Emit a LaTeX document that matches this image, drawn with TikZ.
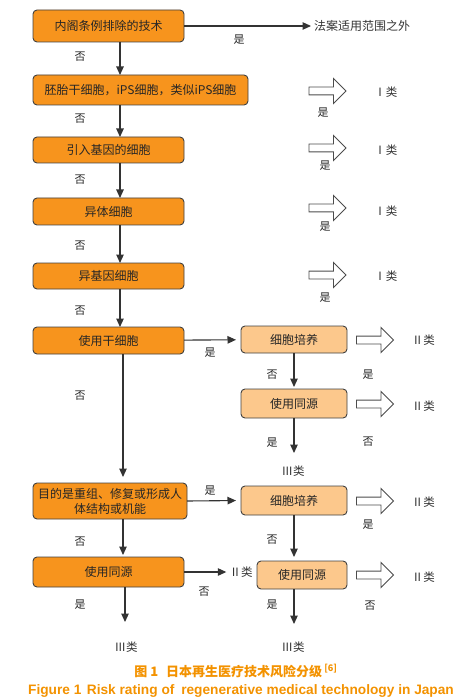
\documentclass[tikz,border=0pt]{standalone}
\usepackage{fontspec}
\newfontfamily\cjk{Noto Sans CJK SC}
\setsansfont{Liberation Sans}
\usepackage{tikz}
\usetikzlibrary{arrows.meta, shapes.arrows}

\definecolor{darkstep}{HTML}{F7941D}
\definecolor{lightstep}{HTML}{FCC88C}
\definecolor{captionorange}{HTML}{F39200}

\tikzset{%
darkbox/.style={draw=black!75, line width=0.9pt, rounded corners=4pt, fill=darkstep, text=black!85, font=\cjk\fontsize{12}{15}\selectfont, align=center, inner sep=0, outer sep=0},
lightbox/.style={darkbox, fill=lightstep},
flowline/.style={line width=1.1pt, black!80, -{Triangle[length=8.5pt, width=7.5pt]}},
hollowarrow/.style={single arrow, draw=black!70, line width=0.9pt, fill=white, minimum height=37pt, minimum width=24pt, inner sep=3.5pt, single arrow head extend=8.5pt, outer sep=0},
answer/.style={font=\cjk\fontsize{11}{13}\selectfont, text=black!85, inner sep=0},
classlabel/.style={font=\cjk\fontsize{11.5}{13}\selectfont, text=black!80, inner sep=1pt}%
}

\begin{document}
\begin{tikzpicture}[x=1pt, y=-1pt]

\useasboundingbox (0, 0) rectangle (470, 700) ;

% arguments: name, x, y, shift of label, class
\newcommand{\classarrow}[5]{%
\path (#2, #3) node [hollowarrow] (#1arrow) {} ;
\path (#1arrow.east) ++(#4) node [classlabel] (#1class) {#5} ;
}

% spines of the main column
\path (120, 0) node [shape=coordinate] (spineA) {} ;
\path (123, 0) node [shape=coordinate] (spineB) {} ;
\path (125, 0) node [shape=coordinate] (spineC) {} ;
\path (294, 0) node [shape=coordinate] (spineR) {} ;

% draw boxes

\node [darkbox, minimum width=151pt, minimum height=32pt] (b1) at (108.5, 26) {内阁条例排除的技术} ;
\node [darkbox, minimum width=215pt, minimum height=30pt] (b2) at (140.5, 90) {胚胎干细胞，iPS细胞，类似iPS细胞} ;
\node [darkbox, minimum width=151pt, minimum height=26pt] (b3) at (108.5, 150) {引入基因的细胞} ;
\node [darkbox, minimum width=151pt, minimum height=27pt] (b4) at (108.5, 211.5) {异体细胞} ;
\node [darkbox, minimum width=151pt, minimum height=26pt] (b5) at (108.5, 276) {异基因细胞} ;
\node [darkbox, minimum width=151pt, minimum height=27pt] (b6) at (108.5, 340.5) {使用干细胞} ;
\node [darkbox, minimum width=154pt, minimum height=36pt] (b7) at (110, 501) {目的是重组、修复或形成人\\体结构或机能} ;
\node [darkbox, minimum width=151pt, minimum height=30pt] (b8) at (108.5, 572) {使用同源} ;

\node [lightbox, minimum width=106pt, minimum height=27pt] (c1) at (294, 339.5) {细胞培养} ;
\node [lightbox, minimum width=106pt, minimum height=29pt] (s1) at (294, 403.5) {使用同源} ;
\node [lightbox, minimum width=106pt, minimum height=29pt] (c2) at (294, 500.5) {细胞培养} ;
\node [lightbox, minimum width=90pt, minimum height=28pt] (s2) at (302, 575) {使用同源} ;

% draw end labels

\node [classlabel, font=\cjk\fontsize{12}{14}\selectfont, anchor=west, inner sep=0] (outside) at (314, 26) {法案适用范围之外} ;
\node [classlabel] (r1) at (293, 471) {Ⅲ类} ;
\node [classlabel] (r2) at (126, 647) {Ⅲ类} ;
\node [classlabel] (r3) at (293, 647) {Ⅲ类} ;
\node [classlabel] (k8) at (241, 572) {Ⅱ类} ;
\path (125, 622) node [shape=coordinate] (e8) {} ;
\path (294, 453) node [shape=coordinate] (es1) {} ;
\path (294, 624) node [shape=coordinate] (es2) {} ;

% draw hollow arrows

\classarrow{b2}{325.5}{91}{40, 1}{Ⅰ类}
\classarrow{b3}{325.5}{148}{40, 2}{Ⅰ类}
\classarrow{b4}{325.5}{208}{40, 3}{Ⅰ类}
\classarrow{b5}{325.5}{275}{40, 1}{Ⅰ类}
\classarrow{c1}{373}{340}{30, 0}{Ⅱ类}
\classarrow{s1}{373}{404}{30, 2}{Ⅱ类}
\classarrow{c2}{373}{501}{30, 1}{Ⅱ类}
\classarrow{s2}{373}{575}{30, 2}{Ⅱ类}

% draw flow arrows

\draw [flowline, shorten >=3pt] (b1) -- (outside) ;
\draw [flowline] (b1.south -| spineA) -- (b2.north -| spineA) ;
\draw [flowline] (b2.south -| spineA) -- (b3.north -| spineA) ;
\draw [flowline] (b3.south -| spineA) -- (b4.north -| spineA) ;
\draw [flowline] (b4.south -| spineA) -- (b5.north -| spineA) ;
\draw [flowline] (b5.south -| spineA) -- (b6.north -| spineA) ;
\draw [flowline, shorten >=6pt] (b6.south -| spineB) -- (b7.north -| spineB) ;
\draw [flowline, shorten >=2pt] (b7.south -| spineB) -- (b8.north -| spineB) ;
\draw [flowline] (b8.south -| spineC) -- (e8) ;

\draw [flowline, shorten >=5pt] (b6) -- (c1) ;
\draw [flowline, shorten >=5pt] (b7.east) -- (c2.west) ;
\draw [flowline, shorten >=2pt] (b8) -- (k8) ;

\draw [flowline, shorten >=2pt] (c1.south -| spineR) -- (s1.north -| spineR) ;
\draw [flowline] (s1.south -| spineR) -- (es1) ;
\draw [flowline, shorten >=4pt] (c2.south -| spineR) -- (s2.north -| spineR) ;
\draw [flowline] (s2.south -| spineR) -- (es2) ;

% draw answers

\node [answer] (a1) at (239, 40) {是} ;
\node [answer] (a2) at (323, 113) {是} ;
\node [answer] (a3) at (325, 166) {是} ;
\node [answer] (a4) at (325, 227) {是} ;
\node [answer] (a5) at (325, 298) {是} ;
\node [answer] (n1) at (80, 57) {否} ;
\node [answer] (n2) at (80, 119) {否} ;
\node [answer] (n3) at (80, 180) {否} ;
\node [answer] (n4) at (80, 246) {否} ;
\node [answer] (n5) at (80, 311) {否} ;
\node [answer] (n6) at (80, 396) {否} ;
\node [answer] (a6) at (210, 353) {是} ;
\node [answer] (n7) at (272, 375) {否} ;
\node [answer] (a7) at (368, 375) {是} ;
\node [answer] (a8) at (272, 443) {是} ;
\node [answer] (n8) at (368, 442) {否} ;
\node [answer] (a9) at (210, 491) {是} ;
\node [answer] (n9) at (80, 542) {否} ;
\node [answer] (n10) at (272, 540) {否} ;
\node [answer] (a10) at (368, 525) {是} ;
\node [answer] (n11) at (204, 592) {否} ;
\node [answer] (a11) at (80, 605) {是} ;
\node [answer] (a12) at (272, 605) {是} ;
\node [answer] (n12) at (370, 606) {否} ;

% draw caption

\node [font=\cjk\bfseries\fontsize{13}{15}\selectfont, text=captionorange, inner sep=0] (cap1) at (236, 671) {图 1\hspace{0.6em}日本再生医疗技术风险分级\,\textsuperscript{[6]}} ;
\node [font=\sffamily\bfseries\fontsize{13.7}{16}\selectfont, text=captionorange, inner sep=0] (cap2) at (241, 691) {Figure 1\hspace{0.4em}Risk rating of\hspace{0.5em}regenerative medical technology in Japan} ;

\end{tikzpicture}
\end{document}
